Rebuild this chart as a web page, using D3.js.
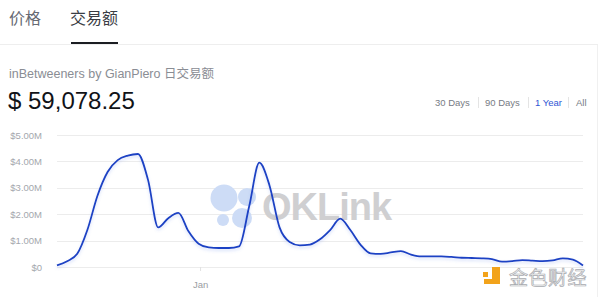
<!DOCTYPE html>
<html>
<head>
<meta charset="utf-8">
<script src="https://cdn.jsdelivr.net/npm/d3@7/dist/d3.min.js"></script>
<style>
  html, body { margin: 0; padding: 0; background: #fff; }
  svg { display: block; }
  text { font-family: "Liberation Sans", "Noto Sans CJK SC", Arial, sans-serif; }
  .cjk { font-family: "Noto Sans CJK SC", "Liberation Sans", sans-serif; }
</style>
</head>
<body>
<svg id="chart" width="600" height="297"></svg>
<script>
// Daily volume, one sample per week (USD millions)
const dates = [
  "2021-09-24","2021-10-01","2021-10-08","2021-10-15","2021-10-22","2021-10-29","2021-11-05",
  "2021-11-12","2021-11-19","2021-11-26","2021-12-03","2021-12-10","2021-12-17","2021-12-24",
  "2021-12-31","2022-01-07","2022-01-14","2022-01-21","2022-01-28","2022-02-04","2022-02-11",
  "2022-02-18","2022-02-25","2022-03-04","2022-03-11","2022-03-18","2022-03-25","2022-04-01",
  "2022-04-08","2022-04-15","2022-04-22","2022-04-29","2022-05-06","2022-05-13","2022-05-20",
  "2022-05-27","2022-06-03","2022-06-10","2022-06-17","2022-06-24","2022-07-01","2022-07-08",
  "2022-07-15","2022-07-22","2022-07-29","2022-08-05","2022-08-12","2022-08-19","2022-08-26",
  "2022-09-02","2022-09-09","2022-09-16","2022-09-23"
];
const volumes = [
  0.06, 0.22, 0.50, 1.40, 2.70, 3.60, 4.05,
  4.22, 4.28, 3.30, 1.50, 1.85, 2.05, 1.35,
  0.88, 0.74, 0.72, 0.72, 0.78, 2.30, 3.95,
  3.10, 1.50, 0.95, 0.82, 0.85, 1.05, 1.40,
  1.83, 1.40, 0.85, 0.52, 0.50, 0.55, 0.60,
  0.47, 0.40, 0.40, 0.40, 0.38, 0.35, 0.34,
  0.33, 0.30, 0.20, 0.22, 0.26, 0.24, 0.22,
  0.25, 0.33, 0.28, 0.06
];
const yTicks = [0, 1, 2, 3, 4, 5];
const xTickDates = ["2022-01-01"];
const xTickLabels = ["Jan"];
const tabs = ["价格", "交易额"];
const ranges = ["30 Days", "90 Days", "1 Year", "All"];
const title = "inBetweeners by GianPiero 日交易额";
const total = "$ 59,078.25";

const parse = d3.timeParse("%Y-%m-%d");
const data = dates.map((d, i) => ({ date: parse(d), value: volumes[i] }));

const svg = d3.select("#chart");

// right card border
svg.append("line").attr("x1", 597.5).attr("x2", 597.5).attr("y1", 44).attr("y2", 297)
  .attr("stroke", "#f0f0f0");

// tabs
svg.append("line").attr("x1", 0).attr("x2", 598).attr("y1", 44.5).attr("y2", 44.5)
  .attr("stroke", "#eeeeee");
svg.append("text").attr("class", "cjk").attr("x", 9).attr("y", 24)
  .attr("font-size", 16).attr("fill", "#666a73").text(tabs[0]);
svg.append("text").attr("class", "cjk").attr("x", 70).attr("y", 24)
  .attr("font-size", 16).attr("fill", "#3a3d44").text(tabs[1]);
svg.append("rect").attr("x", 71).attr("y", 42).attr("width", 47).attr("height", 2)
  .attr("fill", "#1b1d22");

// heading
svg.append("text").attr("x", 9).attr("y", 78).attr("font-size", 12.5)
  .attr("fill", "#8a8d94").text(title);
svg.append("text").attr("x", 8).attr("y", 109).attr("font-size", 24)
  .attr("fill", "#111318").text(total);

// range selector
const rangeX = [435, 485, 535, 576];
const rangeG = svg.append("g").attr("font-size", 9.5);
ranges.forEach((r, i) => {
  rangeG.append("text").attr("x", rangeX[i]).attr("y", 106)
    .attr("fill", r === "1 Year" ? "#2f55d4" : "#777b84").text(r);
});
[478.5, 528.5, 568.5].forEach(x => {
  rangeG.append("line").attr("x1", x).attr("x2", x).attr("y1", 97).attr("y2", 108)
    .attr("stroke", "#e4e4e4");
});

// chart area
const x = d3.scaleTime()
  .domain(d3.extent(data, d => d.date))
  .range([57, 583]);
const y = d3.scaleLinear().domain([0, 5]).range([267, 135]);

const grid = svg.append("g");
yTicks.forEach(t => {
  grid.append("line").attr("x1", 57).attr("x2", 583)
    .attr("y1", Math.round(y(t)) + 0.5).attr("y2", Math.round(y(t)) + 0.5)
    .attr("stroke", "#ececec");
});

const yAxis = d3.axisLeft(y).tickValues(yTicks)
  .tickFormat(d => d === 0 ? "$0" : "$" + d.toFixed(2) + "M")
  .tickSize(0).tickPadding(0);
const yG = svg.append("g").attr("transform", "translate(42,0)").call(yAxis);
yG.select(".domain").remove();
yG.selectAll("text").attr("font-size", 9.5).attr("fill", "#a4a7ad")
  .attr("font-family", "Liberation Sans, Arial, sans-serif");

const xAxis = d3.axisBottom(x).tickValues(xTickDates.map(parse))
  .tickFormat((d, i) => xTickLabels[i]).tickSize(4).tickPadding(10);
const xG = svg.append("g").attr("transform", "translate(0,267)").call(xAxis);
xG.select(".domain").remove();
xG.selectAll("line").attr("stroke", "#e2e2e2");
xG.selectAll("text").attr("font-size", 9.5).attr("fill", "#9a9da3")
  .attr("font-family", "Liberation Sans, Arial, sans-serif");

// OKLink watermark
const wm = svg.append("g").attr("opacity", 1);
[[224, 198, 13.5], [247, 197, 9], [223, 220, 6], [242, 218, 10]].forEach(c => {
  wm.append("circle").attr("cx", c[0]).attr("cy", c[1]).attr("r", c[2]).attr("fill", "#cddcf6");
});
wm.append("text").attr("x", 262).attr("y", 220).attr("font-size", 38)
  .attr("font-weight", "bold").attr("fill", "#cfcfd1").attr("letter-spacing", -1).text("OKLink");

// line
const defs = svg.append("defs");
const f = defs.append("filter").attr("id", "glow").attr("x", "-5%").attr("y", "-5%")
  .attr("width", "110%").attr("height", "130%");
f.append("feDropShadow").attr("dx", 0).attr("dy", 2).attr("stdDeviation", 1.5)
  .attr("flood-color", "#5b7fe8").attr("flood-opacity", 0.25);

const line = d3.line().x(d => x(d.date)).y(d => y(d.value)).curve(d3.curveMonotoneX);
svg.append("path").datum(data).attr("d", line).attr("fill", "none")
  .attr("stroke", "#1f42c4").attr("stroke-width", 1.8).attr("filter", "url(#glow)");

// 金色财经 mark
const jm = svg.append("g");
jm.append("rect").attr("x", 483).attr("y", 272).attr("width", 5).attr("height", 5).attr("fill", "#f2a31b");
jm.append("path").attr("d", "M492,267 h8 v17 h-16 v-5 h8 z").attr("fill", "#f2a31b");
jm.append("text").attr("class", "cjk").attr("x", 509).attr("y", 285).attr("font-size", 19)
  .attr("fill", "#f4f4f4").attr("stroke", "#a9abb0").attr("stroke-width", 0.7)
  .attr("letter-spacing", 0.5).text("金色财经");
</script>
</body>
</html>
